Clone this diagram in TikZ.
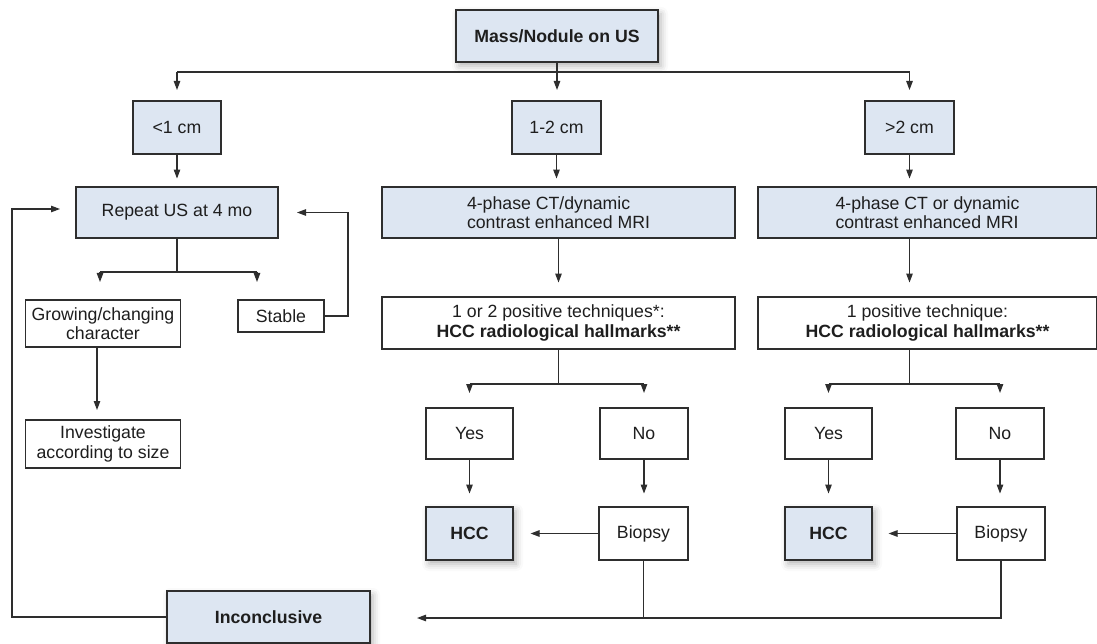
\documentclass[tikz,border=0pt]{standalone}
\usepackage{fontspec}
\setmainfont{Liberation Sans}
\usetikzlibrary{arrows.meta,shadows.blur,calc}
\definecolor{bfill}{HTML}{DDE6F2}
\definecolor{linec}{HTML}{2E2E2E}
\definecolor{txt}{HTML}{1E1E1E}
\newcommand{\fsz}{\fontsize{17.7}{19.5}\selectfont}
\begin{document}
\begin{tikzpicture}[x=1pt,y=-1pt,
  box/.style={draw=linec, line width=1.1pt, text=txt, font=\fsz, inner sep=2pt, align=center, fill=white},
  bluebox/.style={box, fill=bfill},
  shad/.style={blur shadow={shadow xshift=3pt, shadow yshift=-4pt, shadow blur radius=7pt, shadow opacity=30}},
  ln/.style={line width=1.1pt, draw=linec},
  arr/.style={ln, -{Triangle[length=9pt,width=6.5pt]}}]
\useasboundingbox (0,0) rectangle (1097,644);
% nodes
\node[bluebox, shad, minimum width=202pt, minimum height=52pt, font=\fsz\bfseries] (mass) at (557,36) {Mass/Nodule on US};
\node[bluebox, minimum width=88pt, minimum height=53pt] (lt1) at (177,127.5) {<1 cm};
\node[bluebox, minimum width=89pt, minimum height=53pt] (mid12) at (556.5,127.5) {1-2 cm};
\node[bluebox, minimum width=89pt, minimum height=53pt] (gt2) at (909.5,127.5) {>2 cm};
\node[bluebox, minimum width=202pt, minimum height=51pt] (rep) at (177,212.5) {Repeat US at 4 mo};
\node[bluebox, minimum width=353pt, minimum height=51pt, align=left] (ct1) at (558.5,212.5) {4-phase CT/dynamic\\contrast enhanced MRI};
\node[bluebox, minimum width=339pt, minimum height=51pt, align=left] (ct2) at (927.5,212.5) {4-phase CT or dynamic\\contrast enhanced MRI};
\node[box, minimum width=155pt, minimum height=47pt] (grow) at (103,323.5) {Growing/changing\\character};
\node[box, minimum width=86pt, minimum height=32pt] (stable) at (281,316) {Stable};
\node[box, minimum width=155pt, minimum height=48pt] (invest) at (103,444) {Investigate\\according to size};
\node[box, minimum width=353pt, minimum height=52pt] (pos1) at (558.5,323) {1 or 2 positive techniques*:\\\textbf{HCC radiological hallmarks**}};
\node[box, minimum width=339pt, minimum height=52pt] (pos2) at (927.5,323) {1 positive technique:\\\textbf{HCC radiological hallmarks**}};
\node[box, minimum width=87pt, minimum height=51pt] (yes1) at (469.5,433.5) {Yes};
\node[box, minimum width=88pt, minimum height=51pt] (no1) at (644,433.5) {No};
\node[box, minimum width=87pt, minimum height=51pt] (yes2) at (828.5,433.5) {Yes};
\node[box, minimum width=88pt, minimum height=51pt] (no2) at (1000,433.5) {No};
\node[bluebox, shad, minimum width=87pt, minimum height=53pt, font=\fsz\bfseries] (hcc1) at (469.5,533.5) {HCC};
\node[box, minimum width=89pt, minimum height=53pt] (bio1) at (643.5,533.5) {Biopsy};
\node[bluebox, shad, minimum width=87pt, minimum height=53pt, font=\fsz\bfseries] (hcc2) at (828.5,533.5) {HCC};
\node[box, minimum width=88pt, minimum height=53pt] (bio2) at (1001,533.5) {Biopsy};
\node[bluebox, shad, minimum width=203pt, minimum height=52pt, font=\fsz\bfseries] (inc) at (268.5,617) {Inconclusive};
% top split
\coordinate (t0) at (557,72);
\draw[ln] (mass.south) -- (t0);
\draw[ln] (lt1.north |- t0) -- (gt2.north |- t0);
\draw[arr] (lt1.north |- t0) -- ++(0,18);
\draw[arr] (mass.south |- t0) -- ++(0,18);
\draw[arr] (gt2.north |- t0) -- ++(0,18);
% size -> imaging
\draw[arr] (lt1.south) -- ++(0,24);
\draw[arr] (mid12.south) -- ++(0,24);
\draw[arr] (gt2.south) -- ++(0,24);
% repeat branch
\coordinate (r0) at (177,272);
\draw[ln] (rep.south) -- (r0);
\draw[ln] (100,272) -- (257,272);
\draw[arr] (100,272) -- ++(0,10);
\draw[arr] (257,272) -- ++(0,10);
\draw[arr] (97,347) -- (97,410);
\draw[arr] (stable.east) -| (348,212.5) -- (297,212.5);
\draw[arr] (inc.west) -| (12,209) -- (60,209);
% imaging -> positive
\draw[arr] (ct1.south) -- ++(0,44);
\draw[arr] (gt2.south |- ct2.south) -- ++(0,44);
% positive -> yes/no
\coordinate (m0) at (558.5,384);
\draw[ln] (pos1.south) -- (m0);
\draw[ln] (yes1.north |- m0) -- (no1.north |- m0);
\draw[arr] (yes1.north |- m0) -- ++(0,9);
\draw[arr] (no1.north |- m0) -- ++(0,9);
\coordinate (n0) at (913,384);
\draw[ln] (gt2.south |- pos2.south) -- (gt2.south |- n0);
\draw[ln] (yes2.north |- n0) -- (no2.north |- n0);
\draw[arr] (yes2.north |- n0) -- ++(0,9);
\draw[arr] (no2.north |- n0) -- ++(0,9);
% yes/no -> HCC/biopsy
\draw[arr] (yes1.south) -- ++(0,34);
\draw[arr] (no1.south) -- ++(0,34);
\draw[arr] (yes2.south) -- ++(0,34);
\draw[arr] (no2.south) -- ++(0,34);
\draw[arr] (bio1.west) -- ([xshift=17pt]hcc1.east);
\draw[arr] (bio2.west) -- ([xshift=16pt]hcc2.east);
% biopsy -> inconclusive
\coordinate (bl) at (417,618);
\draw[arr] (bio2.south) |- (bl);
\draw[ln] (bio1.south) -- (bio1.south |- bl);
\end{tikzpicture}
\end{document}
